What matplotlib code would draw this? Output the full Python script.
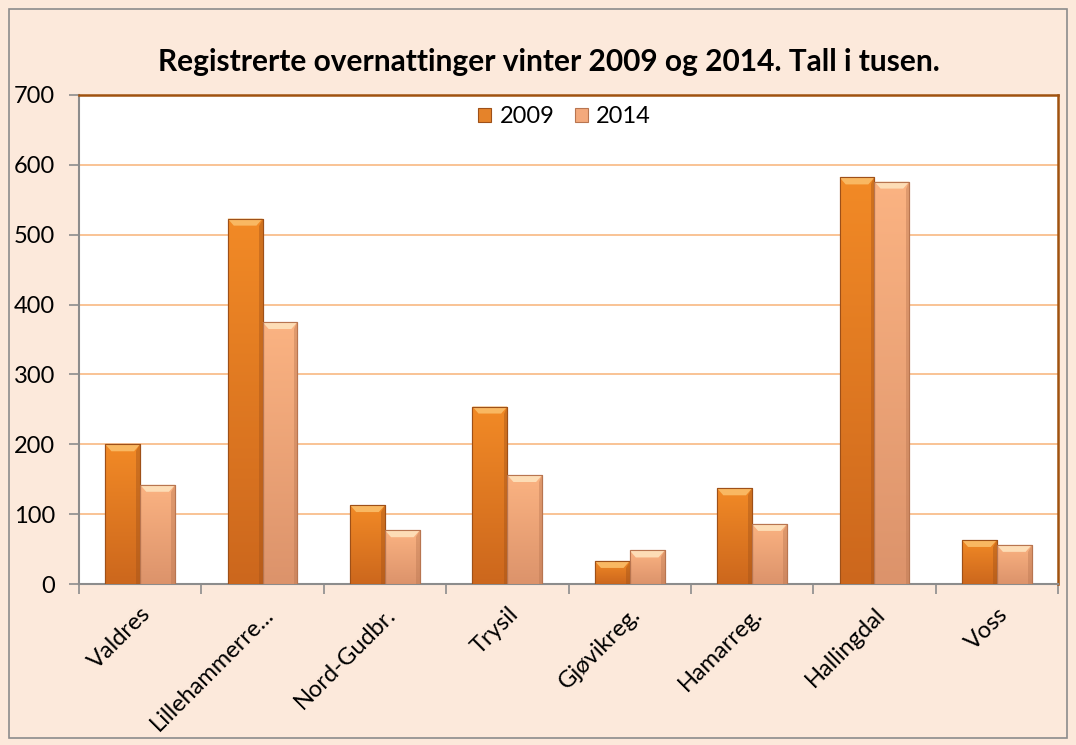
import numpy as np
import matplotlib.pyplot as plt
from matplotlib.patches import Polygon, Rectangle
from matplotlib.colors import LinearSegmentedColormap

# data (tusen overnattinger)
regions = ['Valdres', 'Lillehammerre...', 'Nord-Gudbr.', 'Trysil', 'Gjøvikreg.',
           'Hamarreg.', 'Hallingdal', 'Voss']
v2009 = [200, 523, 113, 254, 33, 137, 582, 63]
v2014 = [142, 375, 77, 156, 48, 86, 576, 56]
years = ['2009', '2014']

plt.rcParams['font.family'] = ['Lato', 'DejaVu Sans']

bg = '#FCE9DB'
col09, edge09, cap09 = '#E5832A', '#9E5018', '#F9B862'
col14, edge14, cap14 = '#F3A97C', '#B87550', '#FDDDB6'
grad09 = LinearSegmentedColormap.from_list('g09', ['#CC671D', '#F28A26'])
grad14 = LinearSegmentedColormap.from_list('g14', ['#DC936B', '#FBB382'])

fig = plt.figure(figsize=(10.76, 7.45), dpi=100, facecolor=bg)
fig.patches.append(Rectangle((0.008, 0.01), 0.984, 0.978, transform=fig.transFigure,
                             fill=False, edgecolor='#8C8C8C', lw=1.2))
ax = fig.add_axes([0.0734, 0.2161, 0.9099, 0.6564])
ax.set_facecolor('white')

x = np.arange(len(regions))
w = 0.285
ax.set_xlim(-0.5, len(regions) - 0.5)
ax.set_ylim(0, 700)

# bevelled bars with vertical gradient
bx = 0.05
by = 10
grad = np.linspace(0, 1, 256).reshape(-1, 1)
for vals, off, fc, ec, cc, cm, lab in [(v2009, -w / 2, col09, edge09, cap09, grad09, years[0]),
                                       (v2014, w / 2, col14, edge14, cap14, grad14, years[1])]:
    bars = ax.bar(x + off, vals, width=w, color=fc, edgecolor=ec, linewidth=0.8, zorder=3, label=lab)
    for b, xi, v in zip(bars, x + off, vals):
        l, r = xi - w / 2, xi + w / 2
        im = ax.imshow(grad, cmap=cm, origin='lower', extent=(l, r, 0, v), aspect='auto',
                       zorder=3.5, interpolation='bilinear')
        im.set_clip_path(b)
        ax.add_patch(Polygon([(l, v), (r, v), (r - bx, v - by), (l + bx, v - by)],
                             closed=True, facecolor=cc, edgecolor='none', zorder=4))
        ax.add_patch(Polygon([(r, v), (r, 0), (r - bx * 0.6, 0), (r - bx * 0.6, v - by)],
                             closed=True, facecolor=ec, alpha=0.4, edgecolor='none', zorder=4))
        ax.add_patch(Rectangle((l, 0), w, v, fill=False, edgecolor=ec, lw=0.8, zorder=4.5))

ax.set_xlim(-0.5, len(regions) - 0.5)
ax.set_ylim(0, 700)
ax.set_yticks(np.arange(0, 701, 100))
ax.yaxis.grid(True, color='#F9BE8C', lw=1.3, zorder=0)
ax.set_axisbelow(True)

ax.set_xticks(np.arange(-0.5, len(regions), 1))
ax.set_xticklabels([])
ax.set_xticks(x, minor=True)
ax.set_xticklabels(regions, minor=True, rotation=45, ha='right', rotation_mode='anchor',
                   fontsize=17)
ax.tick_params(axis='x', which='minor', length=0, pad=14)
ax.tick_params(axis='x', which='major', length=7, color='#8C8C8C', width=1.2)
ax.tick_params(axis='y', length=7, color='#8C8C8C', width=1.2, labelsize=17, pad=10)

for s in ['left', 'bottom']:
    ax.spines[s].set_color('#8C8C8C')
    ax.spines[s].set_linewidth(1.5)
for s in ['top', 'right']:
    ax.spines[s].set_color('#A0520F')
    ax.spines[s].set_linewidth(1.8)

leg = ax.legend(loc='upper center', ncol=2, frameon=False, fontsize=17,
                handlelength=0.55, handleheight=0.55, columnspacing=0.85, handletextpad=0.35,
                bbox_to_anchor=(0.496, 1.02))

fig.text(0.51, 0.917, 'Registrerte overnattinger vinter 2009 og 2014. Tall i tusen.',
         ha='center', va='center', fontsize=21.5, fontweight='bold')

fig.savefig('out.png', dpi=100, facecolor=bg)
